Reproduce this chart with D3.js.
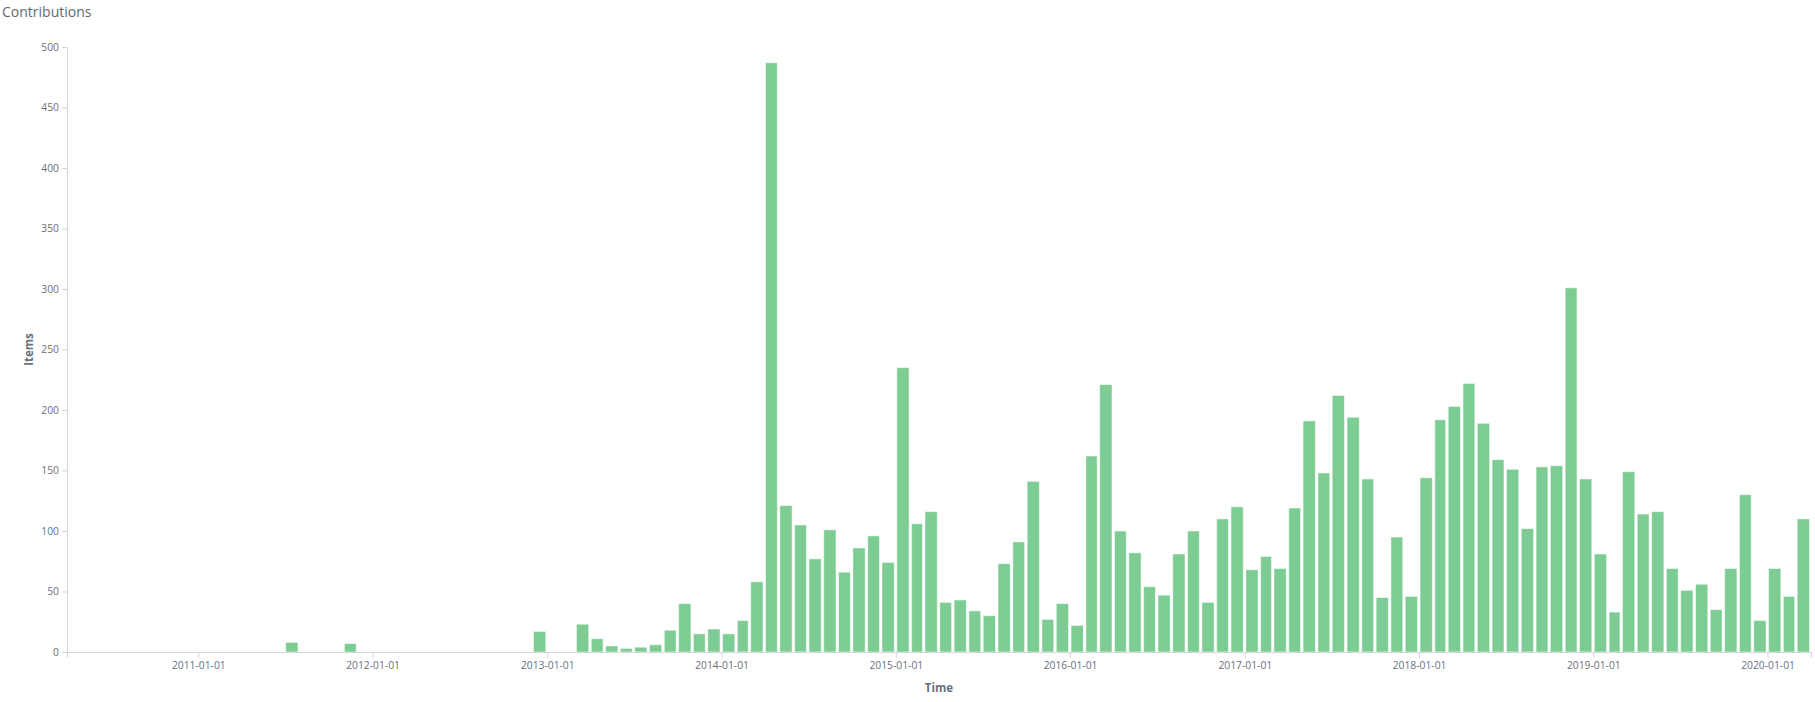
<!DOCTYPE html>
<html>
<head>
<meta charset="utf-8">
<script src="https://cdn.jsdelivr.net/npm/d3@7"></script>
<style>
  html, body { margin: 0; padding: 0; background: #fff; }
  svg { display: block; }
  text { font-family: "Open Sans", "Noto Sans", sans-serif; }
</style>
</head>
<body>
<svg id="chart" width="1815" height="702"></svg>
<script>
// ---- data ----
const chartTitle = "Contributions";
const xTitle = "Time";
const yTitle = "Items";
const months = [
  "2011-07","2011-11","2012-12",
  "2013-03","2013-04","2013-05","2013-06","2013-07","2013-08","2013-09","2013-10","2013-11","2013-12",
  "2014-01","2014-02","2014-03","2014-04","2014-05","2014-06","2014-07","2014-08","2014-09","2014-10","2014-11","2014-12",
  "2015-01","2015-02","2015-03","2015-04","2015-05","2015-06","2015-07","2015-08","2015-09","2015-10","2015-11","2015-12",
  "2016-01","2016-02","2016-03","2016-04","2016-05","2016-06","2016-07","2016-08","2016-09","2016-10","2016-11","2016-12",
  "2017-01","2017-02","2017-03","2017-04","2017-05","2017-06","2017-07","2017-08","2017-09","2017-10","2017-11","2017-12",
  "2018-01","2018-02","2018-03","2018-04","2018-05","2018-06","2018-07","2018-08","2018-09","2018-10","2018-11","2018-12",
  "2019-01","2019-02","2019-03","2019-04","2019-05","2019-06","2019-07","2019-08","2019-09","2019-10","2019-11","2019-12",
  "2020-01","2020-02","2020-03"
];
const items = [
  8, 7, 17,
  23, 11, 5, 3, 4, 6, 18, 40, 15, 19,
  15, 26, 58, 487, 121, 105, 77, 101, 66, 86, 96, 74,
  235, 106, 116, 41, 43, 34, 30, 73, 91, 141, 27, 40,
  22, 162, 221, 100, 82, 54, 47, 81, 100, 41, 110, 120,
  68, 79, 69, 119, 191, 148, 212, 194, 143, 45, 95, 46,
  144, 192, 203, 222, 189, 159, 151, 102, 153, 154, 301, 143,
  81, 33, 149, 114, 116, 69, 51, 56, 35, 69, 130, 26,
  69, 46, 110
];
const timeDomain = ["2010-04-01", "2020-04-01"];
const yDomain = [0, 500];
const yTickValues = [0, 50, 100, 150, 200, 250, 300, 350, 400, 450, 500];

// ---- layout ----
const svg = d3.select("#chart");
const mLeft = 67, mRight = 1811, mTop = 47, mBottom = 652;
const parseMonth = d3.utcParse("%Y-%m");
const parseDay = d3.utcParse("%Y-%m-%d");
const fmt = d3.utcFormat("%Y-%m-%d");

const data = months.map((m, i) => ({ date: parseMonth(m), value: items[i] }));

const x = d3.scaleUtc().domain(timeDomain.map(parseDay)).range([mLeft, mRight]);
const y = d3.scaleLinear().domain(yDomain).range([mBottom, mTop]);

const axisColor = "#d3d7dc";
const labelColor = "#69707d";

// bars
svg.append("g").selectAll("rect").data(data).join("rect")
  .attr("x", d => x(d.date) + 1)
  .attr("width", d => x(d3.utcMonth.offset(d.date, 1)) - x(d.date) - 2.5)
  .attr("y", d => y(d.value))
  .attr("height", d => y(0) - y(d.value))
  .attr("fill", "#7dcc94")
  .attr("stroke", "rgba(255,255,255,0.55)")
  .attr("stroke-width", 1);

// y axis
const gy = svg.append("g").attr("transform", `translate(${mLeft},0)`)
  .call(d3.axisLeft(y).tickValues(yTickValues).tickSize(5).tickSizeOuter(0).tickPadding(3));
gy.select(".domain").attr("stroke", axisColor);
gy.selectAll(".tick line").attr("stroke", axisColor);
gy.selectAll(".tick text").attr("fill", labelColor).attr("font-size", "10.3px")
  .attr("font-family", "'Open Sans', sans-serif");

// x axis
const gx = svg.append("g").attr("transform", `translate(0,${mBottom})`)
  .call(d3.axisBottom(x).ticks(d3.utcYear.every(1)).tickFormat(fmt).tickSize(6).tickSizeOuter(6).tickPadding(4));
gx.select(".domain").attr("stroke", axisColor);
gx.selectAll(".tick line").attr("stroke", axisColor);
gx.selectAll(".tick text").attr("fill", labelColor).attr("font-size", "10.3px")
  .attr("font-family", "'Open Sans', sans-serif");

// titles
svg.append("text").attr("x", 2).attr("y", 17)
  .attr("font-size", "14px").attr("fill", "#5f6b73").text(chartTitle);

svg.append("text").attr("x", (mLeft + mRight) / 2).attr("y", 692)
  .attr("text-anchor", "middle").attr("font-size", "11.5px").attr("font-weight", "bold")
  .attr("fill", labelColor).text(xTitle);

svg.append("text")
  .attr("transform", `translate(33,${(mTop + mBottom) / 2}) rotate(-90)`)
  .attr("text-anchor", "middle").attr("font-size", "11.5px").attr("font-weight", "bold")
  .attr("fill", labelColor).text(yTitle);
</script>
</body>
</html>
